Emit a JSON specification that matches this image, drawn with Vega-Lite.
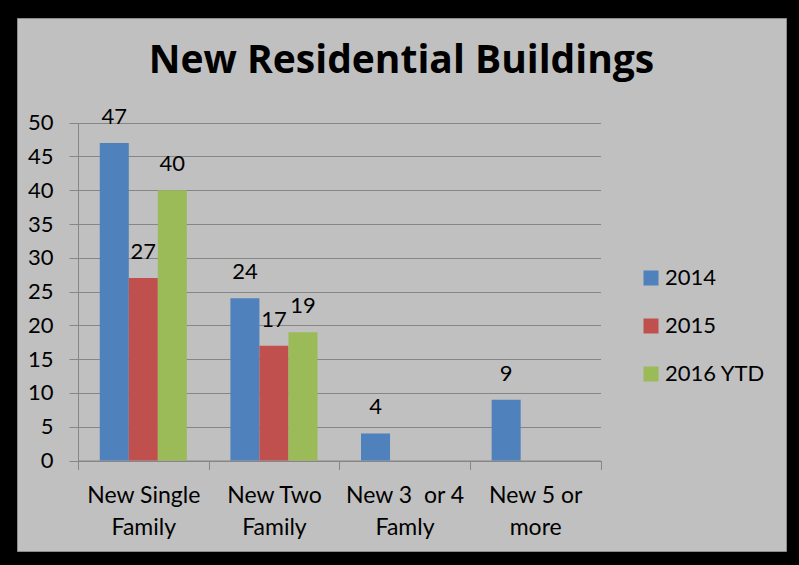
{
  "$schema": "https://vega.github.io/schema/vega-lite/v6.json",
  "width": 769,
  "height": 533,
  "autosize": {"type": "none"},
  "padding": {"left": 17, "top": 18, "right": 13, "bottom": 14},
  "background": "#000000",
  "title": {
    "text": "New Residential Buildings",
    "font": "Open Sans",
    "fontSize": 39,
    "fontWeight": "bold",
    "color": "#000000",
    "anchor": "middle",
    "frame": "group",
    "baseline": "alphabetic",
    "offset": -94
  },
  "data": {
    "values": [
      {"category": "New Single Family", "year": "2014", "count": 47},
      {"category": "New Single Family", "year": "2015", "count": 27},
      {"category": "New Single Family", "year": "2016 YTD", "count": 40},
      {"category": "New Two Family", "year": "2014", "count": 24},
      {"category": "New Two Family", "year": "2015", "count": 17},
      {"category": "New Two Family", "year": "2016 YTD", "count": 19},
      {"category": "New 3  or 4 Famly", "year": "2014", "count": 4},
      {"category": "New 5 or more", "year": "2014", "count": 9}
    ]
  },
  "encoding": {
    "x": {
      "field": "category",
      "type": "nominal",
      "sort": ["New Single Family", "New Two Family", "New 3  or 4 Famly", "New 5 or more"],
      "scale": {"range": [61, 583.5], "paddingInner": 0, "paddingOuter": 0},
      "axis": {
        "title": null,
        "orient": "bottom",
        "offset": -90.5,
        "grid": false,
        "tickBand": "extent",
        "tickSize": 9,
        "tickColor": "#868686",
        "domainColor": "#868686",
        "labelAngle": 0,
        "labelFont": "Lato",
        "labelFontSize": 23,
        "labelLineHeight": 32,
        "labelColor": "#000000",
        "labelPadding": 15,
        "labelExpr": "datum.label == 'New Single Family' ? ['New Single', 'Family'] : datum.label == 'New Two Family' ? ['New Two', 'Family'] : datum.label == 'New 5 or more' ? ['New 5 or', 'more'] : datum.label == 'New 3  or 4 Famly' ? ['New 3\u00a0 or 4', 'Famly'] : ''"
      }
    },
    "xOffset": {
      "field": "year",
      "type": "nominal",
      "sort": ["2014", "2015", "2016 YTD"],
      "scale": {"paddingInner": 0, "paddingOuter": 0.75}
    },
    "y": {
      "field": "count",
      "type": "quantitative",
      "scale": {"domain": [0, 50], "range": [442.5, 104.7], "nice": false, "zero": true},
      "axis": {
        "title": null,
        "offset": -61,
        "values": [0, 5, 10, 15, 20, 25, 30, 35, 40, 45, 50],
        "grid": true,
        "gridColor": "#868686",
        "gridWidth": 1,
        "tickSize": 9,
        "tickColor": "#868686",
        "domainColor": "#868686",
        "labelFont": "Lato",
        "labelFontSize": 22,
        "labelColor": "#000000",
        "labelPadding": 16
      }
    }
  },
  "layer": [
    {
      "mark": {"type": "bar"},
      "encoding": {
        "color": {
          "field": "year",
          "type": "nominal",
          "scale": {"domain": ["2014", "2015", "2016 YTD"], "range": ["#4f81bd", "#c0504d", "#9bbb59"]},
          "legend": {
            "title": null,
            "orient": "none",
            "legendX": 623,
            "legendY": 249,
            "padding": 0,
            "symbolType": "square",
            "symbolSize": 225,
            "symbolStrokeWidth": 0,
            "symbolOpacity": 1,
            "labelFont": "Lato",
            "labelFontSize": 22,
            "labelColor": "#000000",
            "labelOffset": 3,
            "rowPadding": 26
          }
        }
      }
    },
    {
      "mark": {"type": "text", "baseline": "alphabetic", "dy": -19, "font": "Lato", "fontSize": 22, "color": "#000000"},
      "encoding": {
        "text": {"field": "count", "type": "quantitative"}
      }
    }
  ],
  "config": {
    "view": {"fill": "#c0c0c0", "stroke": "#8c8c8c", "strokeWidth": 1}
  }
}
